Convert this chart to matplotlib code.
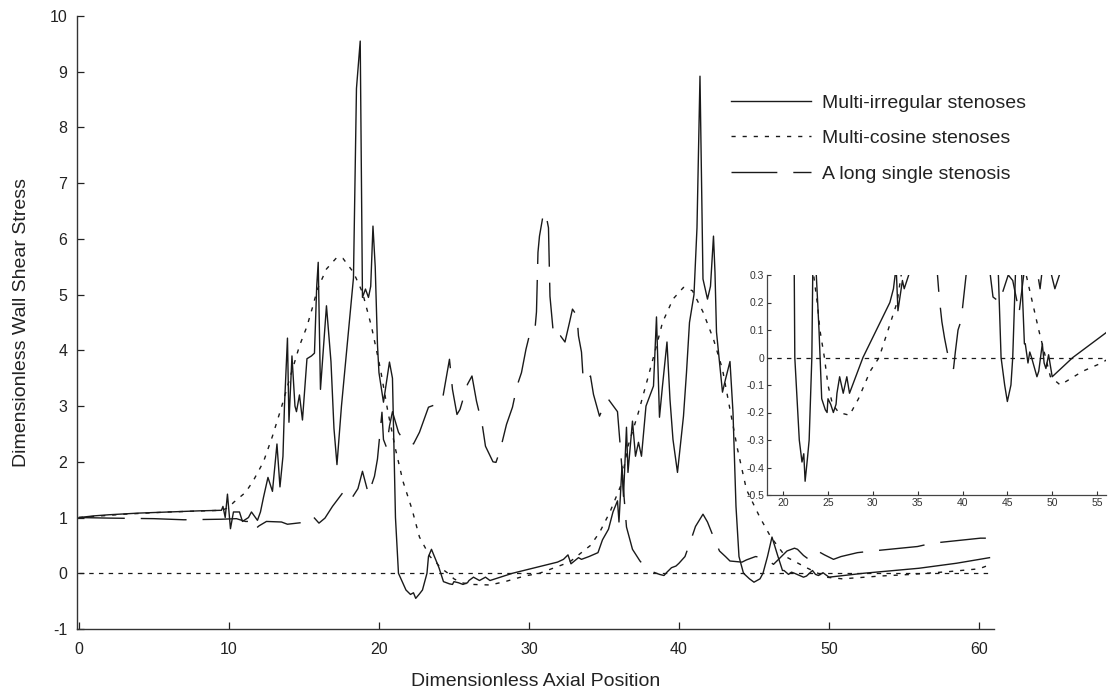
import matplotlib
matplotlib.use("Agg")
import matplotlib.pyplot as plt
import numpy as np

plt.rcParams['font.family'] = ['Liberation Sans', 'DejaVu Sans']
plt.rcParams['lines.scale_dashes'] = False
plt.rcParams['axes.unicode_minus'] = False

# ---------------- data ----------------
irregular_x = [0, 1, 2, 4, 6, 8, 9.5, 9.6, 9.75, 9.9, 10.1, 10.3, 10.7, 10.9, 11.3, 11.5, 11.9,
               12.1, 12.3, 12.6, 12.9, 13.2, 13.4, 13.6, 13.7, 13.9, 14.0, 14.2, 14.4, 14.5, 14.7,
               14.9, 15.2, 15.5, 15.7, 15.85, 15.95, 16.1, 16.5, 16.8, 17.0, 17.2, 17.5, 17.9,
               18.3, 18.5, 18.75, 18.9, 19.1, 19.3, 19.45, 19.6, 19.75, 19.9, 20.0, 20.3, 20.7,
               20.9, 21.1, 21.3, 21.8, 22.1, 22.3, 22.45, 22.7, 22.9, 23.2, 23.3, 23.5, 23.7,
               24.0, 24.3, 24.7, 24.9, 25.0, 25.3, 25.6, 25.9, 26.0, 26.3, 26.7, 27.1, 27.4,
               28.9, 31.9, 32.3, 32.6, 32.8, 33.3, 33.5, 34.0, 34.6, 34.9, 35.3, 35.6, 35.9,
               36.0, 36.2, 36.3, 36.5, 36.6, 36.9, 37.1, 37.3, 37.5, 37.8, 38.3, 38.5, 38.7,
               38.9, 39.2, 39.4, 39.6, 39.9, 40.3, 40.5, 40.7, 41.0, 41.2, 41.4, 41.6, 41.8,
               41.9, 42.1, 42.3, 42.4, 42.5, 42.6, 42.9, 43.1, 43.4, 43.6, 43.8, 44.0, 44.3,
               44.7, 45.0, 45.4, 45.6, 45.9, 46.2, 46.6, 46.9, 47.0, 47.3, 47.5, 47.7, 48.3,
               48.5, 48.9, 49.1, 49.3, 49.6, 50.0, 52.3, 56.0, 58.5, 60.7]
irregular_y = [1.0, 1.03, 1.05, 1.08, 1.1, 1.12, 1.13, 1.2, 1.0, 1.42, 0.8, 1.1, 1.1, 0.93, 1.0, 1.1, 0.95,
               1.1, 1.36, 1.72, 1.47, 2.32, 1.55, 2.1, 3.0, 4.22, 2.71, 3.9, 3.0, 2.9, 3.2,
               2.75, 3.85, 3.9, 3.95, 5.15, 5.58, 3.3, 4.8, 3.8, 2.6, 1.95, 3.0, 4.15,
               5.3, 8.7, 9.55, 4.95, 5.1, 4.95, 5.15, 6.23, 5.5, 4.1, 3.6, 3.07, 3.79,
               3.5, 1.0, 0.0, -0.3, -0.38, -0.35, -0.45, -0.37, -0.3, 0.0, 0.3, 0.43, 0.3,
               0.1, -0.15, -0.19, -0.2, -0.15, -0.17, -0.2, -0.17, -0.13, -0.07, -0.13, -0.07, -0.13,
               0.0, 0.2, 0.25, 0.33, 0.17, 0.28, 0.25, 0.3, 0.37, 0.6, 0.79, 1.1, 1.3,
               0.92, 1.92, 1.38, 2.62, 1.81, 2.73, 2.1, 2.35, 2.1, 3.0, 3.36, 4.6, 2.8,
               3.36, 4.15, 3.12, 2.4, 1.81, 2.82, 3.6, 4.5, 5.0, 6.2, 8.92, 5.28, 5.04,
               4.92, 5.15, 6.05, 5.4, 4.33, 4.06, 3.25, 3.48, 3.8, 2.89, 1.2, 0.3, 0.0,
               -0.1, -0.16, -0.1, 0.0, 0.3, 0.65, 0.3, 0.05, 0.05, -0.02, 0.02, 0.0, -0.07,
               -0.05, 0.05, -0.02, -0.04, 0.01, -0.07, 0.0, 0.09, 0.18, 0.28]

cosine_x = [0, 3, 6, 9.5, 10.0, 10.3, 11.1, 11.6, 12.3, 12.9, 13.5, 14.1, 14.7, 15.2, 15.6, 15.9,
            16.5, 17.2, 17.6, 18.3, 18.9, 19.5, 20.1, 20.6, 21.1, 21.6, 22.2, 22.7, 23.4, 23.8,
            24.1, 24.6, 25.0, 25.5, 26.2, 27.4, 28.4, 29.7, 30.7, 31.7, 32.7, 34.1, 34.7, 35.4,
            36.1, 36.6, 37.3, 37.9, 38.5, 38.9, 39.6, 40.3, 40.9, 41.6, 42.3, 42.9, 43.4, 43.9,
            44.5, 45.4, 46.1, 47.1, 48.5, 49.8, 50.9, 53.4, 55.5, 58.0, 60.0, 60.7]
cosine_y = [1.0, 1.06, 1.1, 1.13, 1.18, 1.27, 1.45, 1.65, 2.0, 2.46, 2.98, 3.54, 4.08, 4.43, 4.8, 5.1,
            5.46, 5.67, 5.65, 5.4, 5.04, 4.43, 3.66, 2.89, 2.23, 1.65, 1.15, 0.65, 0.3, 0.2,
            0.1, 0.0, -0.1, -0.17, -0.2, -0.21, -0.15, -0.05, 0.0, 0.1, 0.2, 0.5, 0.73, 1.1,
            1.56, 2.28, 2.89, 3.48, 4.08, 4.5, 4.92, 5.13, 5.07, 4.69, 4.2, 3.66, 2.94, 2.23,
            1.5, 1.0, 0.66, 0.3, 0.1, -0.07, -0.1, -0.05, -0.02, 0.03, 0.08, 0.15]

single_x = [0, 2, 5, 7, 9.5, 10.5, 11.1, 11.5, 11.7, 12.0, 12.5, 13.5, 13.9, 15.2, 15.6, 16.0, 16.4,
            16.9, 17.6, 18.1, 18.6, 18.9, 19.3, 19.7, 19.9, 20.2, 20.3, 20.5, 20.7, 20.9, 21.3,
            21.6, 22.1, 22.3, 22.7, 23.3, 24.2, 24.7, 24.9, 25.2, 25.4, 25.9, 26.2, 26.3, 26.5,
            26.9, 27.1, 27.6, 27.8, 28.1, 28.5, 28.9, 29.2, 29.5, 29.8, 30.0, 30.3, 30.4, 30.5,
            30.6, 30.7, 30.9, 31.1, 31.3, 31.4, 31.6, 31.9, 32.1, 32.4, 32.7, 32.9, 33.2, 33.3,
            33.5, 33.6, 33.8, 34.1, 34.3, 34.7, 35.1, 35.3, 35.9, 36.1, 36.3, 36.5, 36.9, 37.4,
            37.7, 38.0, 38.3, 38.7, 39.0, 39.2, 39.5, 39.8, 40.0, 40.4, 40.8, 41.1, 41.6, 41.9,
            42.3, 42.7, 43.1, 43.4, 44.2, 44.5, 45.1, 45.6, 46.1, 46.3, 47.2, 47.7, 47.9, 48.3,
            48.65, 49.0, 49.3, 49.7, 50.3, 50.8, 51.9, 52.9, 55.9, 56.9, 60.1, 61.0]
single_y = [1.0, 0.99, 0.98, 0.96, 0.97, 0.98, 0.93, 0.93, 0.78, 0.85, 0.93, 0.92, 0.88, 0.92, 1.02, 0.9, 0.99,
            1.2, 1.45, 1.31, 1.52, 1.83, 1.42, 1.74, 2.05, 2.89, 2.4, 2.26, 2.64, 2.9, 2.53,
            2.4, 2.37, 2.32, 2.53, 2.98, 3.07, 3.84, 3.3, 2.85, 2.94, 3.39, 3.54, 3.39, 3.09,
            2.64, 2.28, 2.0, 1.99, 2.23, 2.67, 2.98, 3.36, 3.6, 4.02, 4.24, 4.26, 4.38, 4.69,
            5.76, 6.05, 6.36, 6.48, 6.2, 4.97, 4.38, 4.2, 4.26, 4.15, 4.5, 4.74, 4.62, 4.26,
            3.97, 3.54, 3.43, 3.54, 3.21, 2.82, 3.07, 3.12, 2.9, 2.23, 1.5, 0.83, 0.43, 0.22,
            0.13, 0.07, 0.02, -0.02, -0.04, 0.02, 0.1, 0.13, 0.18, 0.3, 0.6, 0.84, 1.06, 0.92,
            0.65, 0.4, 0.3, 0.22, 0.2, 0.24, 0.3, 0.28, 0.2, 0.16, 0.4, 0.45, 0.43, 0.32,
            0.25, 0.35, 0.39, 0.33, 0.25, 0.3, 0.37, 0.4, 0.48, 0.54, 0.63, 0.63]

series_labels = ["Multi-irregular stenoses", "Multi-cosine stenoses", "A long single stenosis"]
zero_line_x = [0, 60.7]
main_xticks = [0, 10, 20, 30, 40, 50, 60]
main_yticks = list(range(-1, 11))
inset_xticks = [20, 25, 30, 35, 40, 45, 50, 55]
inset_yticks = [-0.5, -0.4, -0.3, -0.2, -0.1, 0, 0.1, 0.2, 0.3]
inset_yticklabels = ['-0.5', '-0.4', '-0.3', '-0.2', '-0.1', '0', '0.1', '0.2', '0.3']

# ---------------- styles ----------------
LC = '#1a1a1a'
LW = 1.0
styles = [
    dict(linestyle='-'),
    dict(linestyle=(0, (3.0, 5.0))),
    dict(linestyle=(0, (33.0, 11.5))),
]
zero_style = dict(linestyle=(0, (3.2, 3.8)), color=LC, lw=0.9)

W, H = 1108, 690
fig = plt.figure(figsize=(W / 100, H / 100), dpi=100)
ax = fig.add_axes([77 / W, 1 - 629 / H, (994 - 77) / W, (629 - 16) / H])

series = [(irregular_x, irregular_y), (cosine_x, cosine_y), (single_x, single_y)]
handles = []
for (xs, ys), st, lab in zip(series, styles, series_labels):
    h, = ax.plot(xs, ys, color=LC, lw=LW, label=lab, **st)
    handles.append(h)
ax.plot(zero_line_x, [0, 0], **zero_style)

ax.set_xlim(-0.13, 61.0)
ax.set_ylim(-1, 10)
ax.set_xticks(main_xticks)
ax.set_yticks(main_yticks)
ax.tick_params(direction='in', length=5, width=0.9, labelsize=11.5, colors='#222222', pad=7)
ax.tick_params(axis='x', pad=9)
for s in ['top', 'right']:
    ax.spines[s].set_visible(False)
for s in ['left', 'bottom']:
    ax.spines[s].set_color('#333333')
    ax.spines[s].set_linewidth(1.0)
ax.set_xlabel("Dimensionless Axial Position", fontsize=14, color='#222222', labelpad=12)
ax.set_ylabel("Dimensionless Wall Shear Stress", fontsize=14, color='#222222', labelpad=14)

leg = fig.legend(handles=handles, loc='upper left', bbox_to_anchor=(731 / W, 1 - 94 / H),
                 frameon=False, fontsize=14, handlelength=4.1, handletextpad=0.6,
                 labelspacing=0.92, borderpad=0, borderaxespad=0)
for t in leg.get_texts():
    t.set_color('#222222')

# ---------------- inset ----------------
ins = fig.add_axes([767 / W, 1 - 495 / H, (1106 - 767) / W, (495 - 275) / H])
ins.patch.set_alpha(0)
for (xs, ys), st in zip(series, styles):
    ins.plot(xs, ys, color=LC, lw=LW, **st)
ins.axhline(0, **zero_style)
ins.set_xlim(18.2, 56.0)
ins.set_ylim(-0.5, 0.3)
ins.set_xticks(inset_xticks)
ins.set_yticks(inset_yticks)
ins.set_yticklabels(inset_yticklabels)
ins.tick_params(direction='in', length=3, width=0.8, labelsize=7.5, colors='#333333', pad=2)
for s in ['top', 'right']:
    ins.spines[s].set_visible(False)
for s in ['left', 'bottom']:
    ins.spines[s].set_color('#444444')
    ins.spines[s].set_linewidth(0.9)

fig.savefig("out.png", dpi=100)
